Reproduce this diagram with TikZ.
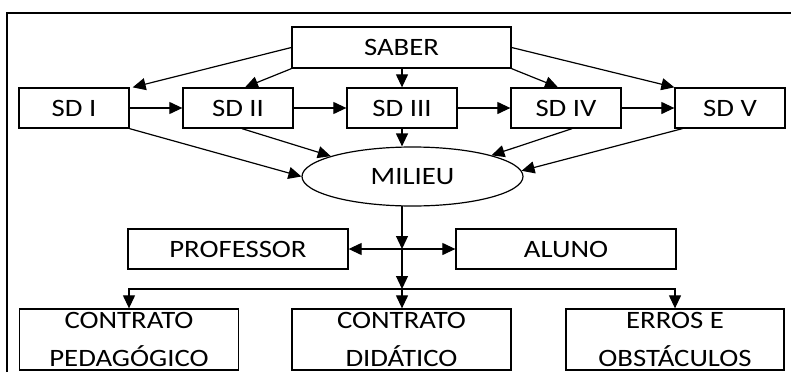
\documentclass[tikz,border=0pt]{standalone}
\usepackage{fontspec}
\setmainfont{Carlito}[FakeStretch=1.15]
\usetikzlibrary{arrows.meta,shapes.geometric,calc}
\begin{document}
\begin{tikzpicture}[x=1pt,y=-1pt,
  box/.style={draw, line width=1.3pt, inner sep=0pt, font=\fontsize{25}{38}\selectfont, align=center},
  sdbox/.style={box, minimum width=110pt, minimum height=40pt},
  midbox/.style={box, minimum width=220pt, minimum height=40pt},
  lowbox/.style={box, minimum width=219pt, minimum height=61pt},
  arr/.style={line width=1.2pt, -{Triangle[length=13pt,width=12pt]}},
  ln/.style={line width=1.2pt}]
\useasboundingbox (0,0) rectangle (791,372);
\draw[line width=2pt] (7,372) -- (7,13) -- (791,13);

\node[box, minimum width=219pt, minimum height=41pt] (saber) at (401.5,47.5) {SABER};
\node[sdbox] (sd1) at (74,108) {SD I};
\node[sdbox] (sd2) at (238,108) {SD II};
\node[sdbox] (sd3) at (402,108) {SD III};
\node[sdbox] (sd4) at (566,108) {SD IV};
\node[sdbox] (sd5) at (730,108) {SD V};
\node[ellipse, draw, line width=1.2pt, inner sep=0pt, minimum width=221pt, minimum height=59pt,
      font=\fontsize{25}{38}\selectfont] (milieu) at (412.5,176.5) {MILIEU};
\node[midbox] (prof) at (238,249) {PROFESSOR};
\node[midbox] (aluno) at (566,249) {ALUNO};
\node[lowbox] (cp) at (129,339.5) {CONTRATO\\PEDAGÓGICO};
\node[lowbox] (cd) at (401.5,339.5) {CONTRATO\\DIDÁTICO};
\node[lowbox, minimum width=218pt] (eo) at (675,339.5) {ERROS E\\OBSTÁCULOS};

\coordinate (m0) at (402,206);
\coordinate (j1) at (402,249);
\coordinate (j2) at (402,289);

% SABER -> SD
\draw[arr] (saber.west) -- ($(sd1.north east)+(3,0)$);
\draw[arr] (saber.south west) -- ($(sd2.north)+(7,0)$);
\draw[arr] (saber.south -| sd3.north) -- (sd3.north);
\draw[arr] (saber.south east) -- ($(sd4.north)+(-8,0)$);
\draw[arr] (saber.east) -- (sd5.north west);

% SD chain
\draw[arr] (sd1) -- (sd2);
\draw[arr] (sd2) -- (sd3);
\draw[arr] (sd3) -- (sd4);
\draw[arr] (sd4) -- (sd5);

% SD -> MILIEU
\draw[arr] (sd1.south east) -- (milieu.west);
\draw[arr] ($(sd2.south)+(4,0)$) -- (milieu.166);
\draw[arr] (sd3.south) -- (sd3.south |- milieu.north);
\draw[arr] ($(sd4.south)+(6,0)$) -- (milieu.15);
\draw[arr] ($(sd5.south west)+(8,0)$) -- (milieu.3);

% MILIEU -> actors
\draw[arr] (m0) -- (j1);
\draw[arr] (j1) -- (prof.east);
\draw[arr] (j1) -- (aluno.west);
\draw[arr] (j1) -- (j2);
\draw[arr] (j2) -| (cp.north);
\draw[arr] (j2) -- (cd.north -| j2);
\draw[arr] (j2) -| (eo.north);
\end{tikzpicture}
\end{document}
